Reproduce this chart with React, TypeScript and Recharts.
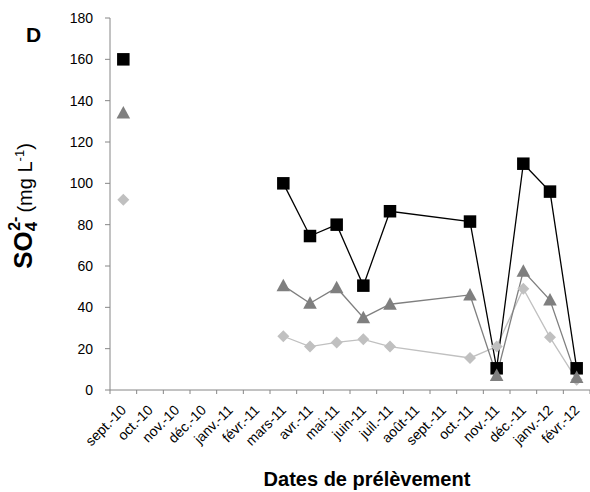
import React from 'react';
import { LineChart, Line, XAxis, YAxis } from 'recharts';

// month categories on the x axis (one band per month)
const months = [
    'sept.-10', 'oct.-10', 'nov.-10', 'déc.-10', 'janv.-11', 'févr.-11',
    'mars-11', 'avr.-11', 'mai-11', 'juin-11', 'juil.-11', 'août-11',
    'sept.-11', 'oct.-11', 'nov.-11', 'déc.-11', 'janv.-12', 'févr.-12',
];

// sampled months (index into months)
const sampleMonths = [0, 6, 7, 8, 9, 10, 13, 14, 15, 16, 17];

// SO4 2- (mg/L) per station
const squareValues = [160, 100, 74.5, 80, 50.5, 86.5, 81.5, 10.5, 109.5, 96, 10.5];
const triangleValues = [134, 50.5, 42, 49.5, 35, 41.5, 46, 7, 57.5, 43.5, 6];
const diamondValues = [92, 26, 21, 23, 24.5, 21, 15.5, 21, 49, 25.5, 5];

const yTicks = [0, 20, 40, 60, 80, 100, 120, 140, 160, 180];
const xTicks = Array.from({ length: months.length + 1 }, (_, i) => i);

// first sample (sept.-10) stands alone, not linked to the rest
const data = sampleMonths.map((m, i) =>
    i === 0
        ? { x: m + 0.5, sq0: squareValues[i], tr0: triangleValues[i], di0: diamondValues[i] }
        : { x: m + 0.5, sq: squareValues[i], tr: triangleValues[i], di: diamondValues[i] }
);

const axisColor = '#868686';
const font = '"Liberation Sans", Arial, sans-serif';

const SquareDot = (props: any) => {
    const { cx, cy, key } = props;
    if (cy == null) return null;
    return <rect key={key} x={cx - 6.25} y={cy - 6.25} width={12.5} height={12.5} fill="#000" />;
};

const makeTriangle = (color: string) => (props: any) => {
    const { cx, cy, key } = props;
    if (cy == null) return null;
    return (
        <polygon key={key} points={`${cx},${cy - 7} ${cx + 6.8},${cy + 5.5} ${cx - 6.8},${cy + 5.5}`} fill={color} />
    );
};

const makeDiamond = (color: string) => (props: any) => {
    const { cx, cy, key } = props;
    if (cy == null) return null;
    return (
        <polygon key={key} points={`${cx},${cy - 6} ${cx + 6},${cy} ${cx},${cy + 6} ${cx - 6},${cy}`} fill={color} />
    );
};

const triColor = '#7f7f7f';
const diaColor = '#c0c0c0';
const TriangleDot = makeTriangle(triColor);
const DiamondDot = makeDiamond(diaColor);

const MonthTick = (props: any) => {
    const { x, y, payload } = props;
    const i = payload.value;
    if (i >= months.length) return null;
    const ax = x + 17;
    const ay = y + 15;
    return (
        <text x={ax} y={ay} transform={`rotate(-45, ${ax}, ${ay})`} textAnchor="end" fontSize={14} fontFamily={font} fill="#000">
            {months[i]}
        </text>
    );
};

export default function App() {
    return (
        <div style={{ position: 'absolute', left: 0, top: 0, width: 590, height: 492, background: '#fff' }}>
            <LineChart width={590} height={492} data={data} margin={{ top: 18, right: 0, left: 50, bottom: 42 }}>
                <XAxis
                    type="number"
                    dataKey="x"
                    domain={[0, months.length]}
                    ticks={xTicks}
                    interval={0}
                    height={60}
                    axisLine={{ stroke: axisColor }}
                    tickLine={{ stroke: axisColor }}
                    tickSize={4}
                    tick={<MonthTick />}
                />
                <YAxis
                    domain={[0, 180]}
                    ticks={yTicks}
                    width={60}
                    axisLine={{ stroke: axisColor }}
                    tickLine={{ stroke: axisColor }}
                    tickSize={5}
                    tickMargin={12}
                    tick={{ fill: '#000', fontSize: 14, fontFamily: font }}
                />
                <Line dataKey="di0" stroke="none" dot={<DiamondDot />} isAnimationActive={false} />
                <Line dataKey="di" stroke={diaColor} strokeWidth={1.3} dot={<DiamondDot />} isAnimationActive={false} />
                <Line dataKey="sq0" stroke="none" dot={<SquareDot />} isAnimationActive={false} />
                <Line dataKey="sq" stroke="#000" strokeWidth={1.3} dot={<SquareDot />} isAnimationActive={false} />
                <Line dataKey="tr0" stroke="none" dot={<TriangleDot />} isAnimationActive={false} />
                <Line dataKey="tr" stroke={triColor} strokeWidth={1.3} dot={<TriangleDot />} isAnimationActive={false} />
            </LineChart>
            <svg width={590} height={492} style={{ position: 'absolute', left: 0, top: 0, pointerEvents: 'none' }}>
                <text x={26} y={42} fontSize={21} fontWeight="bold" fontFamily={font} fill="#000">D</text>
                <text
                    x={32}
                    y={206}
                    transform="rotate(-90, 32, 206)"
                    textAnchor="middle"
                    fontFamily={font}
                    fill="#000"
                >
                    <tspan fontSize={26} fontWeight="bold">SO</tspan>
                    <tspan fontSize={17} fontWeight="bold" dy={5}>4</tspan>
                    <tspan fontSize={16} fontWeight="bold" dx={-9} dy={-17}>2-</tspan>
                    <tspan fontSize={20} dx={4} dy={12}>(mg L</tspan>
                    <tspan fontSize={13} dy={-8}>-1</tspan>
                    <tspan fontSize={20} dy={8}>)</tspan>
                </text>
                <text x={367} y={486} textAnchor="middle" fontSize={20} fontWeight="bold" fontFamily={font} fill="#000">
                    Dates de prélèvement
                </text>
            </svg>
        </div>
    );
}
